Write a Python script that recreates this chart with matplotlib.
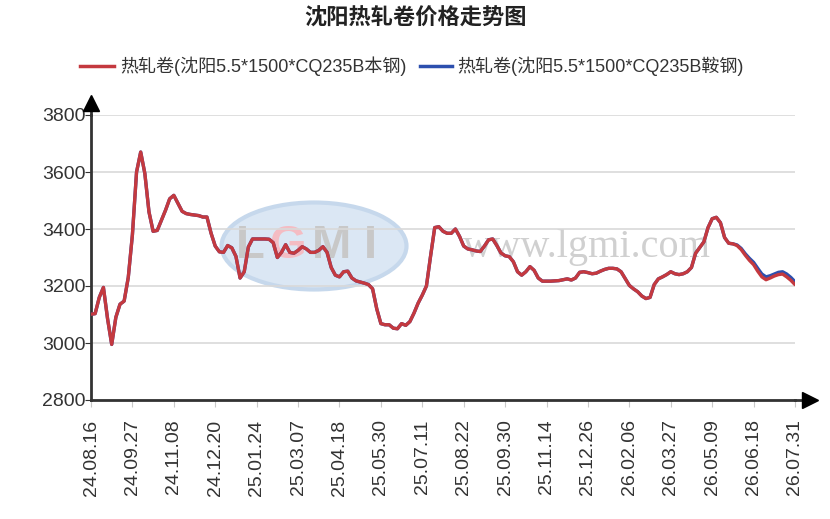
import matplotlib
matplotlib.use('Agg')

import numpy as np
import matplotlib.pyplot as plt
from matplotlib.patches import Ellipse

plt.rcParams['font.family'] = ['Liberation Sans', 'Noto Sans CJK SC', 'DejaVu Sans']

# Tick labels (one every 10 data points)
date_labels = ['24.08.16', '24.09.27', '24.11.08', '24.12.20', '25.01.24', '25.03.07',
               '25.04.18', '25.05.30', '25.07.11', '25.08.22', '25.09.30', '25.11.14',
               '25.12.26', '26.02.06', '26.03.27', '26.05.09', '26.06.18', '26.07.31']

# 本钢 price series
benxi = [3101, 3103, 3160, 3195, 3085, 2995, 3090, 3136, 3147, 3230,
         3380, 3600, 3670, 3595, 3460, 3392, 3395, 3430, 3466, 3506,
         3518, 3490, 3462, 3454, 3451, 3449, 3447, 3442, 3442, 3385,
         3340, 3320, 3318, 3342, 3334, 3304, 3228, 3250, 3337, 3365,
         3365, 3365, 3365, 3364, 3352, 3300, 3318, 3345, 3318, 3315,
         3325, 3338, 3330, 3318, 3318, 3325, 3338, 3318, 3265, 3238,
         3232, 3250, 3252, 3228, 3218, 3214, 3210, 3205, 3190, 3120,
         3068, 3064, 3064, 3052, 3050, 3068, 3062, 3075, 3105, 3140,
         3168, 3200, 3305, 3405, 3408, 3392, 3385, 3385, 3400, 3374,
         3340, 3330, 3327, 3323, 3321, 3340, 3362, 3365, 3342, 3316,
         3306, 3303, 3285, 3250, 3238, 3250, 3268, 3255, 3228, 3217,
         3217, 3217, 3218, 3219, 3222, 3225, 3221, 3228, 3248, 3250,
         3247, 3243, 3245, 3252, 3258, 3262, 3262, 3260, 3250, 3226,
         3202, 3190, 3180, 3165, 3156, 3160, 3205, 3225, 3232, 3240,
         3250, 3243, 3240, 3243, 3250, 3265, 3315, 3335, 3355, 3405,
         3436, 3441, 3422, 3370, 3350, 3348, 3342, 3328, 3308, 3290,
         3275, 3252, 3232, 3222, 3228, 3235, 3240, 3242, 3232, 3220,
         3205]

# 鞍钢 series: same as 本钢 until the last weeks
angang_tail = [3344, 3332, 3313, 3297, 3283, 3262, 3242, 3232, 3236, 3242,
               3248, 3250, 3242, 3230, 3215]
angang = benxi[:156] + angang_tail

label_benxi = '热轧卷(沈阳5.5*1500*CQ235B本钢)'
label_angang = '热轧卷(沈阳5.5*1500*CQ235B鞍钢)'
title = '沈阳热轧卷价格走势图'

W, H = 830, 519
fig = plt.figure(figsize=(W / 100, H / 100), dpi=100)
fig.patch.set_facecolor('white')

# axes in pixel units: x 91..795, y 115..400
ax = fig.add_axes([91 / W, 1 - 400 / H, (795 - 91) / W, (400 - 115) / H])

# watermark (logo ellipse + site name)
fig.patches.append(Ellipse((314 / W, 1 - 246 / H), 185 / W, 87 / H, transform=fig.transFigure,
                           facecolor='#dbe7f4', edgecolor='#c6d8ec', lw=3, zorder=0))
for ch, px, col in [('L', 250, '#c8c8c8'), ('G', 287, '#f4bcc3'),
                    ('M', 331, '#c8c8c8'), ('I', 370, '#c8c8c8')]:
    fig.text(px / W, 1 - 246 / H, ch, fontsize=34, color=col, fontweight='bold',
             ha='center', va='center', zorder=0.5)
fig.text(587 / W, 1 - 247 / H, 'www.lgmi.com', fontsize=29, color='#d0d0d0',
         family='Liberation Serif', ha='center', va='center', zorder=0.5)
ax.set_zorder(1)
ax.patch.set_alpha(0)

x = np.arange(len(benxi))
ax.plot(x, angang, color='#2c4fae', lw=2.4, zorder=3, solid_capstyle='round')
ax.plot(x, benxi, color='#c4393f', lw=2.4, zorder=4, solid_capstyle='round')

ax.set_xlim(0, len(benxi) - 1)
ax.set_ylim(2800, 3800)
ax.set_yticks([2800, 3000, 3200, 3400, 3600, 3800])
ax.set_xticks(np.arange(0, len(benxi), 10))
ax.set_xticklabels(date_labels, rotation=90, fontsize=14, color='#333333')
ax.tick_params(axis='y', labelsize=14, labelcolor='#333333', length=4, color='#333333', pad=0)
ax.tick_params(axis='x', length=5, color='#c8c8c8', pad=9)

ax.yaxis.grid(True, color='#d9d9d9', lw=1.2)
ax.set_axisbelow(True)

for s in ['top', 'right']:
    ax.spines[s].set_visible(False)
for s in ['left', 'bottom']:
    ax.spines[s].set_color('#333333')
    ax.spines[s].set_linewidth(2)

# axis arrows
ax.plot([1.0, 1.02], [0, 0], transform=ax.transAxes, color='#333333', lw=2, clip_on=False)
ax.plot([1.021], [0], marker='>', markersize=12, color='black', transform=ax.transAxes, clip_on=False)
ax.plot([0, 0], [1.0, 1.04], transform=ax.transAxes, color='#333333', lw=2, clip_on=False)
ax.plot([0], [1.042], marker='^', markersize=12, color='black', transform=ax.transAxes, clip_on=False)

# title and legend
fig.text(415 / W, 1 - 18 / H, title, fontsize=16, fontweight='bold', color='#222222',
         ha='center', va='center', family=['Noto Sans CJK SC'])
fig.lines.append(plt.Line2D([80 / W, 114 / W], [1 - 66 / H] * 2, transform=fig.transFigure,
                            color='#c4393f', lw=2.5))
fig.text(120 / W, 1 - 66 / H, label_benxi, fontsize=13, color='#333333', va='center')
fig.lines.append(plt.Line2D([420 / W, 452 / W], [1 - 66 / H] * 2, transform=fig.transFigure,
                            color='#2c4fae', lw=2.5))
fig.text(457 / W, 1 - 66 / H, label_angang, fontsize=13, color='#333333', va='center')

plt.savefig('out.png', dpi=100)
